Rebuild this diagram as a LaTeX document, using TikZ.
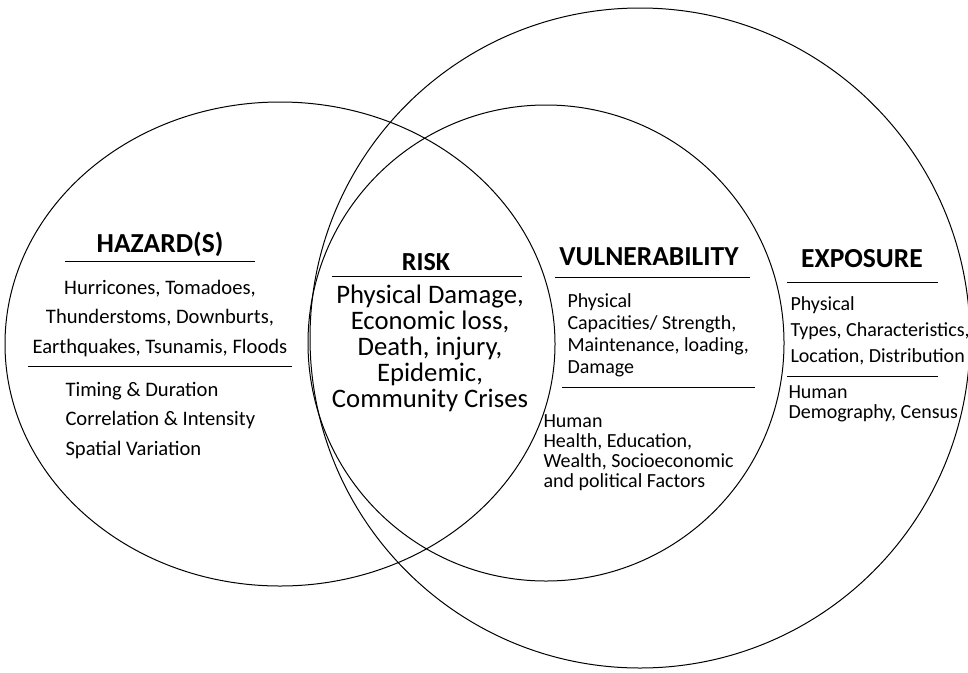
\documentclass[tikz,border=0pt]{standalone}
\usepackage{fontspec}
\setmainfont{Carlito}
\usetikzlibrary{positioning}

\begin{document}
\begin{tikzpicture}[x=1pt, y=-1pt, line width=1pt,
  head/.style={font=\fontsize{27.5}{32}\selectfont\bfseries, anchor=base, inner sep=0pt},
  riskhead/.style={font=\fontsize{26}{30}\selectfont\bfseries, anchor=base, inner sep=0pt},
  hztext/.style={font=\fontsize{20.6}{24}\selectfont, inner sep=0pt},
  rktext/.style={font=\fontsize{26.7}{31}\selectfont, anchor=base, inner sep=0pt},
  smtext/.style={font=\fontsize{20}{23}\selectfont, anchor=base west, inner sep=0pt}]
\useasboundingbox (0,0) rectangle (968,672);

% the four sets
\draw (280,344) ellipse [x radius=275, y radius=242];
\draw (546,343) circle [radius=238];
\draw (640,338) circle [radius=330];

% hazard
\node [head] (haz) at (160,252) {HAZARD(S)};
\draw (65,261) -- (255,261);
\foreach \t [count=\i] in {{Hurricones, Tomadoes,},{Thunderstoms, Downburts,},{Earthquakes, Tsunamis, Floods}}
  \node [hztext, anchor=base] (hz-\i) at (160,{294+29.5*(\i-1)}) {\t};
\draw (28,366) -- (292,366);
\foreach \t [count=\i] in {Timing \& Duration, Correlation \& Intensity, Spatial Variation}
  \node [hztext, anchor=base west] (hzb-\i) at (65,{396+29.5*(\i-1)}) {\t};

% risk
\node [riskhead] (risk) at (426,270) {RISK};
\draw (332,276) -- (522,276);
\foreach \t [count=\i] in {{Physical Damage,},{Economic loss,},{Death, injury,},{Epidemic,},{Community Crises}}
  \node [rktext] (rk-\i) at (430,{303+26*(\i-1)}) {\t};

% vulnerability
\node [head] (vul) at (649,265) {VULNERABILITY};
\draw (555,277) -- (750,277);
\foreach \t [count=\i] in {Physical,{Capacities/ Strength,},{Maintenance, loading,},Damage}
  \node [smtext] (vl-\i) at (567,{307+22*(\i-1)}) {\t};
\draw (562,387) -- (755,387);
\foreach \t [count=\i] in {Human,{Health, Education,},{Wealth, Socioeconomic},and political Factors}
  \node [smtext] (vh-\i) at (543,{427+20*(\i-1)}) {\t};

% exposure
\node [head] (expo) at (862,267) {EXPOSURE};
\draw (787,282) -- (938,282);
\foreach \t [count=\i] in {Physical,{Types, Characteristics,},{Location, Distribution}}
  \node [smtext] (ep-\i) at (790,{310+26*(\i-1)}) {\t};
\draw (787,376) -- (938,376);
\foreach \t [count=\i] in {Human,{Demography, Census}}
  \node [smtext] (eh-\i) at (788,{398+20*(\i-1)}) {\t};
\end{tikzpicture}
\end{document}
